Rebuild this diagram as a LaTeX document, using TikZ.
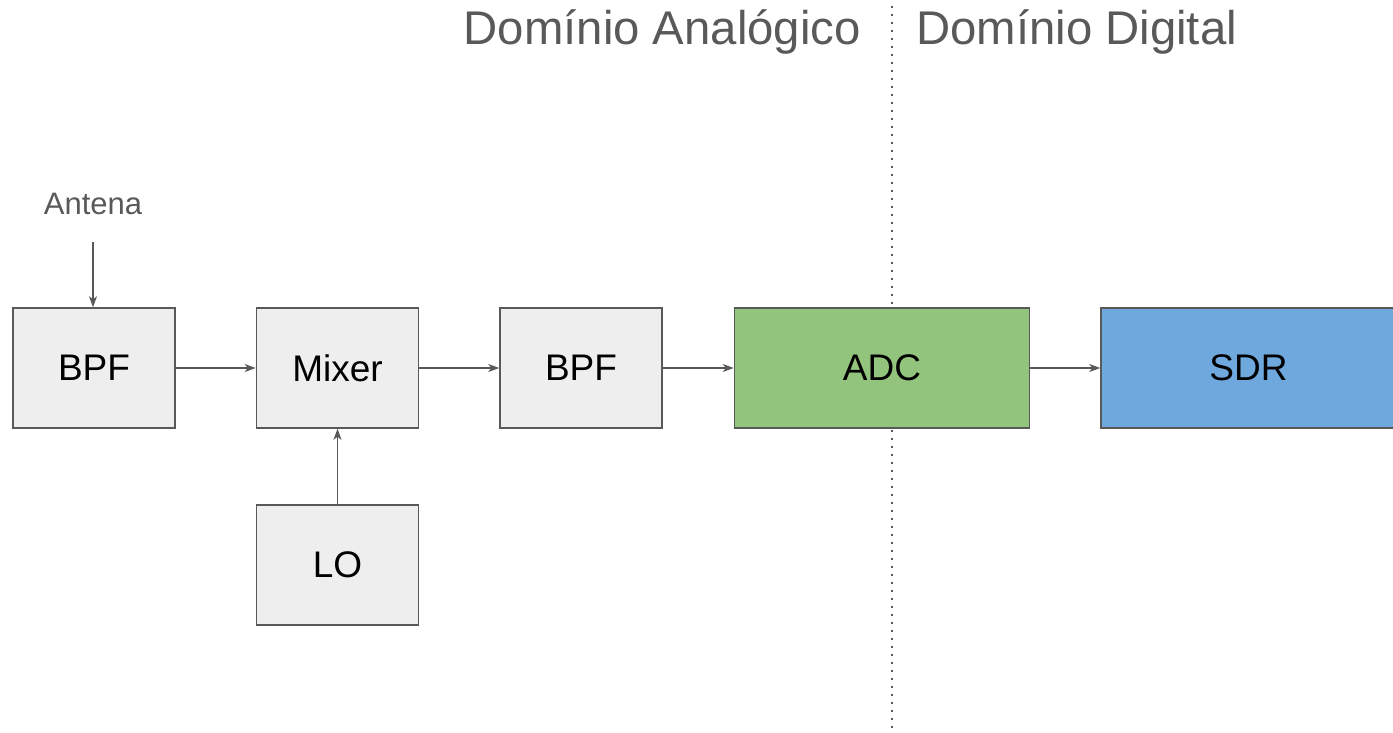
\documentclass[tikz,border=0pt]{standalone}
\usepackage{fontspec}
\setmainfont{Liberation Sans}
\usetikzlibrary{arrows.meta}
\definecolor{edge}{HTML}{595959}
\definecolor{boxgray}{HTML}{EEEEEE}
\definecolor{adcgreen}{HTML}{93C47D}
\definecolor{sdrblue}{HTML}{6FA8DC}
\tikzset{
  block/.style={draw=edge, line width=1.5pt, fill=boxgray, minimum width=162pt,
    minimum height=120pt, inner sep=0pt, font=\fontsize{37}{41}\selectfont, text=black},
  wide/.style={block, minimum width=295pt},
  link/.style={draw=edge, line width=1.3pt, -{Stealth[length=11pt,width=8pt,inset=3pt]}},
  title/.style={text=edge, inner sep=0pt, font=\fontsize{47.3}{52}\selectfont},
}
\begin{document}
\begin{tikzpicture}[x=1pt, y=-1pt]
  \useasboundingbox (0,0) rectangle (1393,732);
  \clip (0,0) rectangle (1393,732);
  % boundary between the analog and digital parts
  \draw[edge, line width=1.6pt, dash pattern=on 1.6pt off 6.4pt] (892,6) -- (892,732);
  \node[title, anchor=base east] (analog) at (861,44) {Domínio Analógico};
  \node[title, anchor=base west] (digital) at (916,44) {Domínio Digital};
  % receive chain
  \node[block] (bpf1) at (94,368) {BPF};
  \node[block] (mixer) at (337.5,368) {Mixer};
  \node[block] (bpf2) at (581,368) {BPF};
  \node[wide, fill=adcgreen] (adc) at (882,368) {ADC};
  \node[wide, fill=sdrblue] (sdr) at (1248.5,368) {SDR};
  \node[block] (lo) at (337.5,565) {LO};
  \node[text=edge, inner sep=0pt, anchor=base, font=\fontsize{31}{34}\selectfont] (ant) at (93,214) {Antena};
  \coordinate (antin) at (93,242);
  % signal flow
  \draw[link] (antin) -- (antin |- bpf1.north);
  \draw[link] (bpf1) -- (mixer);
  \draw[link] (lo) -- (mixer);
  \draw[link] (mixer) -- (bpf2);
  \draw[link] (bpf2) -- (adc);
  \draw[link] (adc) -- (sdr);
\end{tikzpicture}
\end{document}
